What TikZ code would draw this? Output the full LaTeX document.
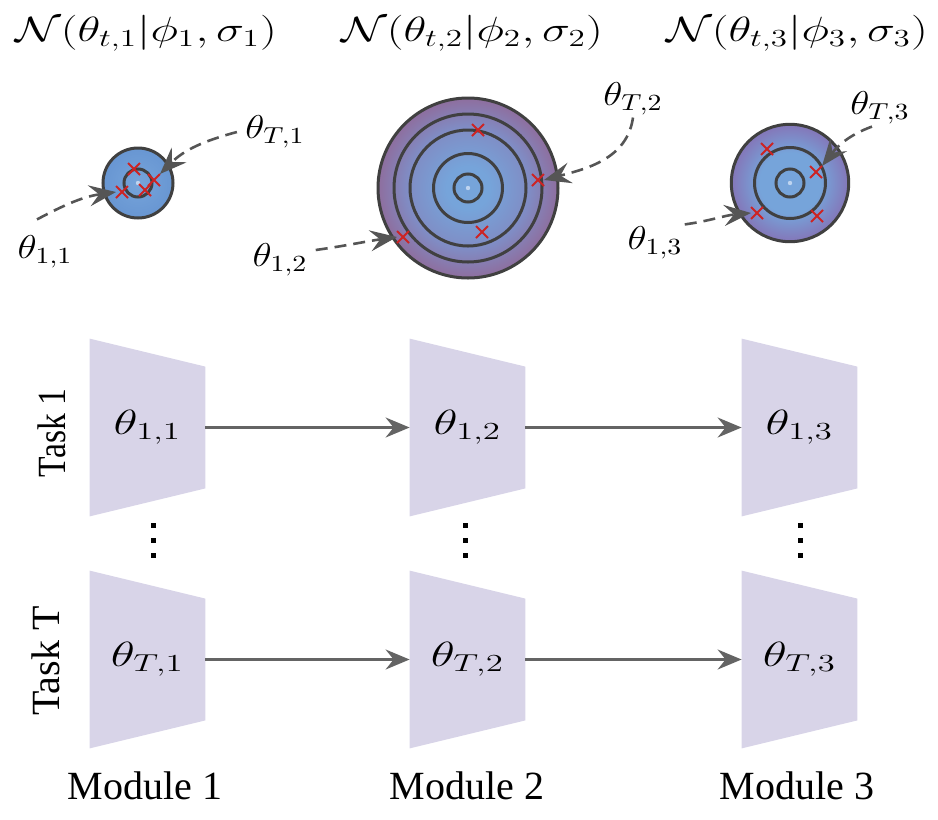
\RequirePackage{fix-cm}
\documentclass[tikz,border=0pt]{standalone}
\usepackage[no-math]{fontspec}
\setmainfont{Liberation Serif}
\newfontfamily\labelfont{Liberation Serif}
\usepackage{amsmath, amssymb}
\usepackage{graphicx}
\usepackage{tikz}
\usetikzlibrary{arrows.meta, shapes.misc, calc, backgrounds}

\definecolor{modfill}{RGB}{216,212,232}
\definecolor{ringcol}{RGB}{64,64,64}
\definecolor{arrgrey}{RGB}{100,100,100}
\definecolor{dashgrey}{RGB}{85,85,85}
\definecolor{xred}{RGB}{205,35,35}
\definecolor{gblue}{RGB}{118,164,218}
\definecolor{gblueedge}{RGB}{104,150,210}
\definecolor{gmid}{RGB}{128,140,196}
\definecolor{gpurple}{RGB}{142,110,158}
\definecolor{gviolet}{RGB}{132,118,184}
\definecolor{gdot}{RGB}{190,212,240}

\pgfdeclareradialshading{shadetwo}{\pgfpoint{0bp}{0bp}}{color(0bp)=(gblue); color(6bp)=(gblue);
  color(17bp)=(gmid); color(25bp)=(gpurple); color(50bp)=(gpurple)}
\pgfdeclareradialshading{shadethree}{\pgfpoint{0bp}{0bp}}{color(0bp)=(gblue); color(13bp)=(gblue);
  color(25bp)=(gviolet); color(50bp)=(gviolet)}

\newcommand{\wm}[2][1.35]{\scalebox{#1}[1]{$#2$}}

\tikzset{
  modbox/.style={minimum width=57.5pt, minimum height=88.5pt, inner sep=0pt,
    font=\fontsize{17.5}{20}\selectfont},
  modarrow/.style={arrgrey, line width=1.2pt, -{Stealth[length=12pt, width=10pt, inset=4pt]}},
  dasharrow/.style={dashgrey, line width=1.3pt, dash pattern=on 6pt off 3.5pt,
    -{Stealth[length=13.5pt, width=10.5pt, inset=5pt]}},
  ring/.style={ringcol, line width=1.5pt},
  xmark/.style={cross out, draw=xred, line width=1pt, minimum size=5pt, inner sep=0pt},
  smath/.style={font=\fontsize{16.5}{20}\selectfont, inner sep=1pt},
  tmath/.style={font=\fontsize{17.5}{21}\selectfont, inner sep=1pt},
  txt/.style={font=\labelfont\fontsize{20}{24}\selectfont, inner sep=1pt},
}

\begin{document}
\begin{tikzpicture}[x=0.5pt, y=0.5pt]
    \useasboundingbox (0,0) rectangle (938,-820);

    \node[tmath] (n1) at (146,-33) {\wm{\mathcal{N}(\theta_{t,1}|\phi_1,\sigma_1)}};
    \node[tmath] (n2) at (472,-33) {\wm{\mathcal{N}(\theta_{t,2}|\phi_2,\sigma_2)}};
    \node[tmath] (n3) at (797,-33) {\wm{\mathcal{N}(\theta_{t,3}|\phi_3,\sigma_3)}};

    \coordinate (c1) at (138,-183);
    \coordinate (c2) at (468,-188);
    \coordinate (c3) at (790,-183);
    \shade[inner color=gblue, outer color=gblueedge] (c1) circle (35);
    \shade[shading=shadetwo] (c2) circle (90);
    \shade[shading=shadethree] (c3) circle (58.7);
    \foreach \c in {c1, c2, c3} {
        \fill[gdot] (\c) circle (2.2);
        \draw[ring] (\c) circle (14);
    }
    \draw[ring] (c1) circle (35);
    \foreach \r in {34.5, 58, 74, 90}
        \draw[ring] (c2) circle (\r);
    \draw[ring] (c3) circle (35.5);
    \draw[ring] (c3) circle (58.7);

    \node[xmark] (x11) at (122,-192) {};
    \node[xmark] (x1a) at (134,-169) {};
    \node[xmark] (x1b) at (145,-190) {};
    \node[xmark] (x1T) at (154,-180) {};
    \node[xmark] (x21) at (403,-237) {};
    \node[xmark] (x2a) at (478,-130) {};
    \node[xmark] (x2b) at (482,-232) {};
    \node[xmark] (x2T) at (538,-180) {};
    \node[xmark] (x31) at (757,-213) {};
    \node[xmark] (x3a) at (767,-149) {};
    \node[xmark] (x3b) at (817,-216) {};
    \node[xmark] (x3T) at (816,-172) {};

    \node[smath] (l11) at (45,-252) {\wm[1.2]{\theta_{1,1}}};
    \node[smath] (lT1) at (275,-132) {\wm[1.2]{\theta_{T,1}}};
    \node[smath] (l12) at (280,-260) {\wm[1.2]{\theta_{1,2}}};
    \node[smath] (lT2) at (633,-99) {\wm[1.2]{\theta_{T,2}}};
    \node[smath] (l13) at (655,-243) {\wm[1.2]{\theta_{1,3}}};
    \node[smath] (lT3) at (880,-108) {\wm[1.2]{\theta_{T,3}}};

    \draw[dasharrow] ([shift={(-4pt,7pt)}]l11.north) to[out=28, in=188] (x11.west);
    \draw[dasharrow] ([xshift=-3pt]lT1.west) to[out=195, in=45] (x1T.north east);
    \draw[dasharrow] ([shift={(3pt,5pt)}]l12.east) to[out=8, in=188] (x21.west);
    \draw[dasharrow] (lT2.south) to[out=262, in=15] (x2T.east);
    \draw[dasharrow] (l13.north east) to[out=8, in=185] (x31.west);
    \draw[dasharrow] ([xshift=-4pt]lT3.south) to[out=200, in=52] (x3T.north east);

    \foreach \c/\x in {1/147.5, 2/467.5, 3/799.5}
        \foreach \r/\y in {1/427.5, T/659.5}
            \node[modbox] (b\r\c) at (\x,-\y) {\wm[1.42]{\theta_{\r,\c}}};
    \begin{scope}[on background layer]
        \foreach \n in {b11, b12, b13, bT1, bT2, bT3}
            \fill[modfill] (\n.north west) -- ($(\n.north east)+(0,-28)$)
                -- ($(\n.south east)+(0,28)$) -- (\n.south west) -- cycle;
    \end{scope}

    \foreach \r in {1, T} {
        \draw[modarrow] (b\r1.east) -- (b\r2.west);
        \draw[modarrow] (b\r2.east) -- (b\r3.west);
    }

    \foreach \x in {153, 465, 800}
        \foreach \y in {525, 540, 555}
            \fill (\x-2.5,-\y-2.5) rectangle (\x+2.5,-\y+2.5);

    \node[txt, rotate=90] (t1) at (52,-433) {\scalebox{0.84}[1]{Task 1}};
    \node[txt, rotate=90] (tT) at (46,-661) {Task T};

    \node[txt] (m1) at (145,-786) {Module 1};
    \node[txt] (m2) at (467,-786) {Module 2};
    \node[txt] (m3) at (797,-786) {Module 3};
\end{tikzpicture}
\end{document}
